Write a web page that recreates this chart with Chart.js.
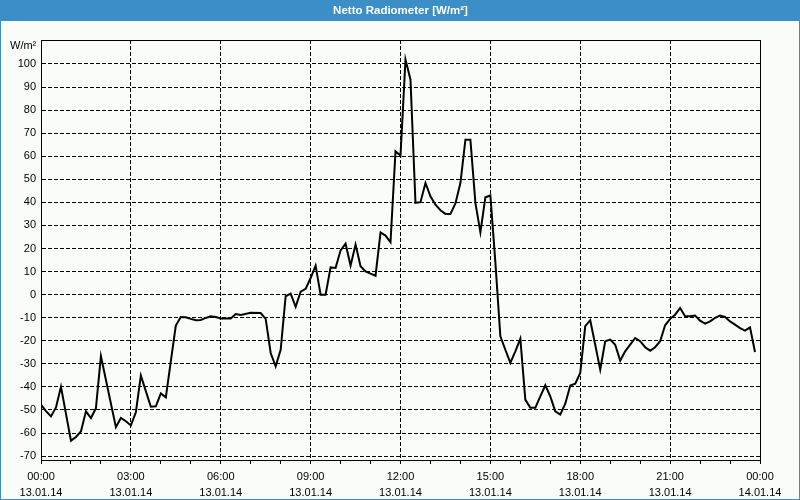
<!DOCTYPE html>
<html><head><meta charset="utf-8">
<script src="https://cdn.jsdelivr.net/npm/chart.js@4/dist/chart.umd.min.js"></script>
<style>html,body{margin:0;padding:0;background:#fafcfa;overflow:hidden}canvas{display:block}</style>
</head><body><canvas id="c" width="800" height="500"></canvas>
<script>
const chartTitle = "Netto Radiometer [W/m²]";
const unitLabel = "W/m²";
const times = ["00:00","00:10","00:20","00:30","00:40","01:00","01:10","01:20","01:30","01:40","01:50","02:00","02:30","02:40","02:50","03:00","03:10","03:20","03:40","03:50","04:00","04:10","04:20","04:30","04:40","04:50","05:00","05:10","05:20","05:30","05:40","05:50","06:00","06:20","06:30","06:40","07:00","07:20","07:30","07:40","07:50","08:00","08:10","08:20","08:30","08:40","08:50","09:00","09:10","09:20","09:30","09:40","09:50","10:00","10:10","10:20","10:30","10:40","10:50","11:00","11:10","11:20","11:30","11:40","11:50","12:00","12:10","12:20","12:30","12:40","12:50","13:00","13:10","13:20","13:30","13:40","13:50","14:00","14:10","14:20","14:30","14:40","14:50","15:00","15:10","15:20","15:30","15:40","15:50","16:00","16:10","16:20","16:30","16:40","16:50","17:00","17:10","17:20","17:30","17:40","17:50","18:00","18:10","18:20","18:30","18:40","18:50","19:00","19:10","19:20","19:30","19:40","19:50","20:00","20:10","20:20","20:30","20:40","20:50","21:00","21:10","21:20","21:30","21:40","21:50","22:00","22:10","22:20","22:30","22:40","22:50","23:00","23:10","23:20","23:30","23:40","23:50"];
const values = [-47.7,-50.5,-52.8,-48.9,-40.0,-63.3,-61.7,-59.3,-50.6,-53.5,-49.2,-26.7,-57.5,-53.5,-54.9,-56.7,-51.0,-35.1,-48.6,-48.4,-42.8,-44.5,-28.9,-13.4,-9.7,-9.8,-10.5,-11.1,-11.0,-10.1,-9.4,-9.7,-10.3,-10.3,-8.4,-8.8,-7.9,-8.0,-10.5,-25.3,-31.1,-23.9,-0.7,0.4,-5.3,1.3,2.5,7.2,12.6,0.0,0.0,11.8,11.6,19.2,22.1,12.6,21.7,12.3,10.1,9.1,8.2,27.0,25.6,22.7,62.1,60.3,101.9,93.2,39.8,40.1,48.4,42.6,39.0,36.6,35.0,35.0,39.5,48.4,67.2,67.2,39.8,27.0,42.2,43.0,14.0,-18.1,-23.9,-29.6,-24.6,-19.1,-45.5,-49.1,-49.1,-44.1,-39.3,-44.1,-50.6,-52.0,-47.3,-39.4,-38.6,-34.0,-13.7,-11.1,-21.7,-32.5,-20.2,-19.5,-21.7,-28.6,-24.6,-21.7,-18.8,-20.2,-22.8,-24.3,-22.8,-20.2,-13.3,-10.5,-8.7,-5.8,-9.4,-9.4,-9.1,-11.3,-12.6,-11.6,-10.1,-9.1,-9.7,-11.6,-13.0,-14.5,-15.6,-14.2,-24.9];
const xTickTimes = ["00:00","03:00","06:00","09:00","12:00","15:00","18:00","21:00","00:00"];
const xTickDates = ["13.01.14","13.01.14","13.01.14","13.01.14","13.01.14","13.01.14","13.01.14","13.01.14","14.01.14"];
const yTicks = [-70,-60,-50,-40,-30,-20,-10,0,10,20,30,40,50,60,70,80,90,100];

const toHours = t => { const [h,m] = t.split(':').map(Number); return h + m/60; };
const points = times.map((t,i) => ({x: toHours(t), y: values[i]}));
const FONT = "'Liberation Sans', Arial, sans-serif";

const framePlugin = {
  id: 'frame',
  beforeDraw(chart) {
    const c = chart.ctx;
    c.save();
    c.fillStyle = '#fafcfa';
    c.fillRect(0,0,800,500);
    c.fillStyle = '#3c8fc6';
    c.fillRect(0,0,800,21);
    c.fillRect(0,0,1,500);
    c.fillRect(799,0,1,500);
    c.fillRect(0,499,800,1);
    c.restore();
  },
  afterDraw(chart) {
    const c = chart.ctx, a = chart.chartArea;
    c.save();
    c.strokeStyle = '#000';
    c.lineWidth = 1;
    c.strokeRect(a.left + 0.5, a.top + 0.5, a.right - a.left, a.bottom - a.top);
    c.fillStyle = '#000';
    c.font = '11px ' + FONT;
    c.textAlign = 'left';
    c.textBaseline = 'middle';
    c.fillText(unitLabel, 10, 46);
    c.restore();
  }
};

new Chart(document.getElementById('c'), {
  type: 'line',
  data: { datasets: [{ data: points, borderColor: '#000', borderWidth: 2, pointRadius: 0, tension: 0, fill: false }] },
  options: {
    responsive: false, animation: false,
    layout: { padding: { left: 10, right: 40, top: 0, bottom: 0 } },
    plugins: {
      legend: { display: false }, tooltip: { enabled: false },
      title: { display: true, fullSize: false, text: chartTitle, color: '#ffffff', font: { family: FONT, size: 11.5, weight: 'bold' }, padding: { top: 3.7, bottom: 22.5 } }
    },
    scales: {
      x: {
        type: 'linear', min: 0, max: 24,
        afterBuildTicks(s) { s.ticks = Array.from({length: 25}, (_, i) => ({value: i})); },
        afterFit(s) { s.height = 40; },
        grid: { color: ctx => (ctx.tick && ctx.tick.value % 3 === 0) ? '#000' : 'rgba(0,0,0,0)', tickColor: '#000', tickLength: 4, lineWidth: 1 },
        border: { display: true, color: '#000', width: 1, dash: [4, 2] },
        ticks: {
          autoSkip: false, maxRotation: 0, minRotation: 0, padding: 5, color: '#000',
          font: { family: FONT, size: 11, lineHeight: 16/11 },
          callback: v => (v % 3 === 0) ? [xTickTimes[v/3], xTickDates[v/3]] : ''
        }
      },
      y: {
        type: 'linear', min: -71.7, max: 110.4,
        afterBuildTicks(s) { s.ticks = yTicks.map(v => ({value: v})); },
        afterFit(s) { s.width = 31; },
        grid: { color: '#000', drawTicks: false, lineWidth: 1 },
        border: { display: true, color: '#000', width: 1, dash: [4, 2] },
        ticks: { padding: 5, color: '#000', font: { family: FONT, size: 11 } }
      }
    }
  },
  plugins: [framePlugin]
});
</script></body></html>
